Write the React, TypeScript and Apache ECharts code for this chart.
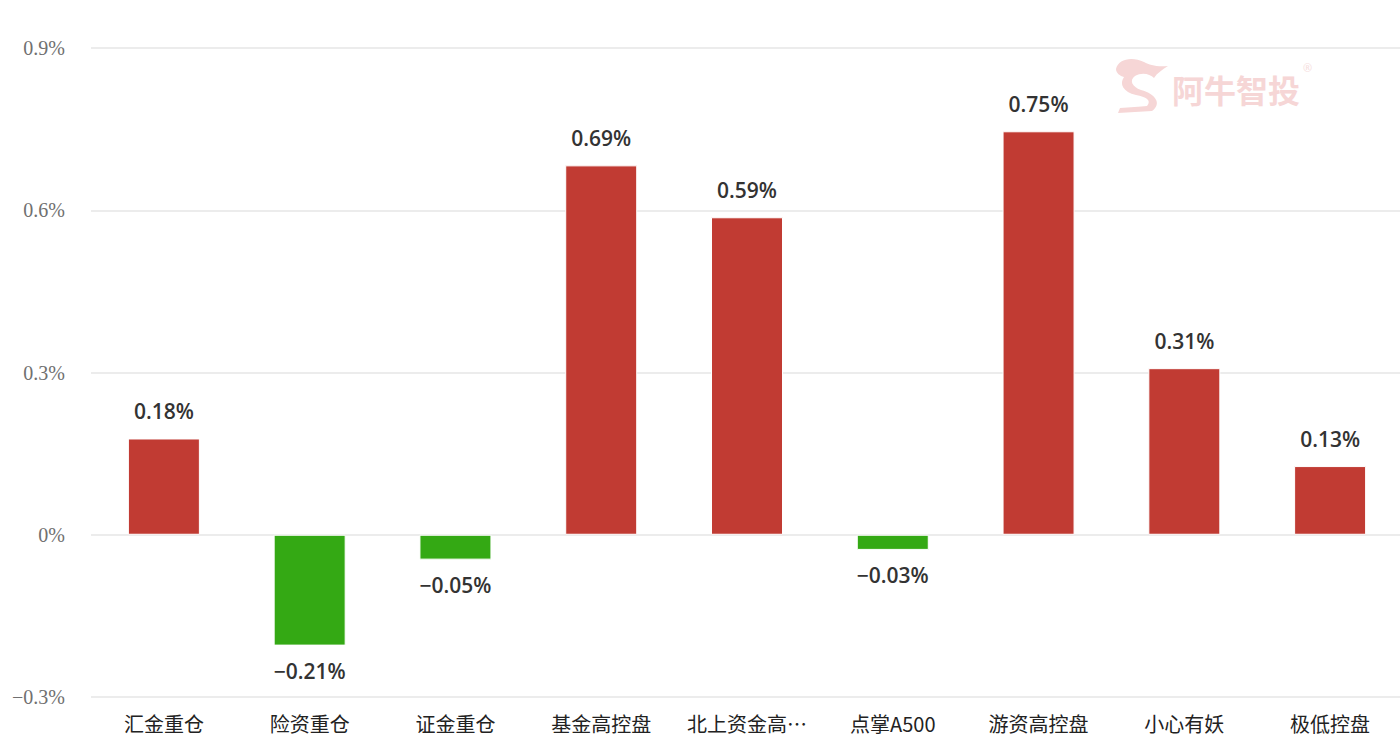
import React, { useEffect, useRef } from "react";
import * as echarts from "echarts";

const categories = ["汇金重仓", "险资重仓", "证金重仓", "基金高控盘", "北上资金高控盘", "点掌A500", "游资高控盘", "小心有妖", "极低控盘"];
const values = [0.178, -0.205, -0.046, 0.683, 0.587, -0.028, 0.746, 0.308, 0.127];
const valueLabels = ["0.18%", "−0.21%", "−0.05%", "0.69%", "0.59%", "−0.03%", "0.75%", "0.31%", "0.13%"];
const yTicks = [-0.3, 0, 0.3, 0.6, 0.9];

const UP = "#c13b33";
const DOWN = "#34a914";

const swirl =
  "M6 12 C8 2 22 -1 34 5 C40 8 46 10 58 9 C52 13 47 16 44 21 C40 17 32 15 25 19 C19 23 22 30 31 33 C46 37 52 47 42 54 L8 56 L10 51 C20 50 30 50 37 49 C42 43 36 40 26 38 C13 35 9 27 14 20 C10 19 6 16 6 12 Z";

export default function App() {
  const ref = useRef<HTMLDivElement>(null);
  useEffect(() => {
    document.body.style.margin = "0";
    document.body.style.overflow = "hidden";
    echarts.graphic.registerShape("logo", echarts.graphic.extendPath(swirl, {}));
    const chart = echarts.init(ref.current!, undefined, { renderer: "svg" });
    const fmtTick = (v: number) => {
      const s = String(Math.round(Math.abs(v) * 10) / 10);
      return (v < 0 ? "−" : "") + s + "%";
    };
    chart.setOption({
      animation: false,
      backgroundColor: "#ffffff",
      grid: { left: 91, right: 7, top: 48, bottom: 54, containLabel: false },
      graphic: [
        {
          type: "logo",
          x: 1110,
          y: 57,
          scaleX: 1,
          scaleY: 1,
          z: 0,
          style: { fill: "#f6d6d6" },
        },
        {
          type: "text",
          x: 1172,
          y: 73,
          z: 0,
          style: {
            text: "阿牛智投",
            fill: "#f6d6d6",
            font: "bold 32px 'Noto Sans CJK SC'",
          },
        },
        {
          type: "text",
          x: 1303,
          y: 62,
          z: 0,
          style: { text: "®", fill: "#f6dede", font: "11px 'Noto Sans'" },
        },
      ],
      xAxis: {
        type: "category",
        data: categories,
        axisLine: { show: false, onZero: false },
        axisTick: { show: false },
        axisLabel: {
          color: "#222",
          fontSize: 20,
          fontFamily: "'Noto Sans CJK SC'",
          margin: 16,
          interval: 0,
          width: 130,
          overflow: "truncate",
          ellipsis: "…",
        },
      },
      yAxis: {
        type: "value",
        min: yTicks[0],
        max: yTicks[yTicks.length - 1],
        interval: 0.3,
        axisLine: { show: false },
        axisTick: { show: false },
        splitLine: { lineStyle: { color: "#e6e6e6", width: 1.5 } },
        axisLabel: {
          color: "#707070",
          fontSize: 20,
          fontFamily: "'Liberation Serif', 'DejaVu Serif', serif",
          margin: 26,
          formatter: fmtTick,
        },
      },
      series: [
        {
          type: "bar",
          barWidth: 72,
          z: 2,
          data: values.map((v) => ({
            value: v,
            itemStyle: { color: v >= 0 ? UP : DOWN, borderColor: "#ffffff", borderWidth: 1 },
            label: {
              show: true,
              position: v >= 0 ? "top" : "bottom",
              distance: v >= 0 ? 17 : 15,
            },
          })),
          label: {
            color: "#333",
            fontSize: 21,
            fontWeight: 600,
            fontFamily: "'Open Sans', 'Noto Sans', sans-serif",
            formatter: (p: any) => valueLabels[p.dataIndex],
          },
        },
      ],
    });
    return () => chart.dispose();
  }, []);
  return <div ref={ref} style={{ width: 1410, height: 751 }} />;
}
